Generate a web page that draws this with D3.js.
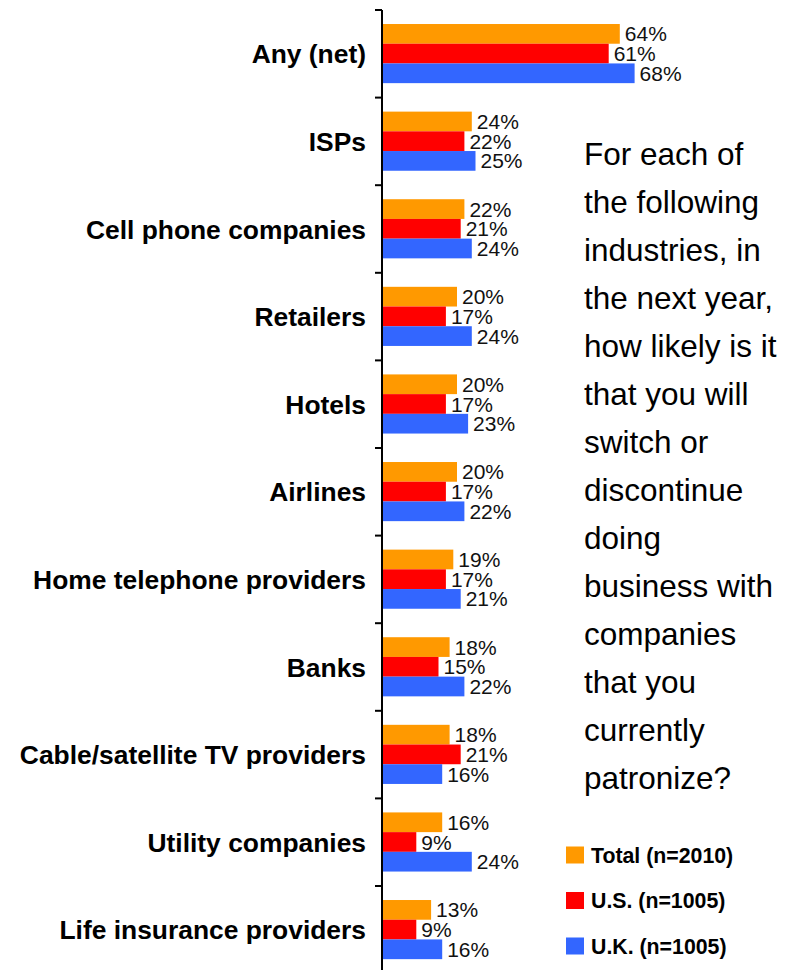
<!DOCTYPE html>
<html>
<head>
<meta charset="utf-8">
<script src="https://cdn.jsdelivr.net/npm/d3@7"></script>
<style>
  html, body { margin: 0; padding: 0; background: #fff; }
  svg { display: block; font-family: Arial, "Liberation Sans", sans-serif; }
</style>
</head>
<body>
<svg id="chart" width="798" height="970"></svg>
<script>
// Survey categories, top to bottom
const categories = [
  "Any (net)", "ISPs", "Cell phone companies", "Retailers", "Hotels",
  "Airlines", "Home telephone providers", "Banks",
  "Cable/satellite TV providers", "Utility companies", "Life insurance providers"
];
const seriesNames = ["Total (n=2010)", "U.S. (n=1005)", "U.K. (n=1005)"];
const totalValues = [64, 24, 22, 20, 20, 20, 19, 18, 18, 16, 13];
const usValues    = [61, 22, 21, 17, 17, 17, 17, 15, 21,  9,  9];
const ukValues    = [68, 25, 24, 24, 23, 22, 21, 22, 16, 24, 16];
const seriesColors = ["#FF9900", "#FF0000", "#3366FF"];
const questionLines = [
  "For each of", "the following", "industries, in", "the next year,",
  "how likely is it", "that you will", "switch or", "discontinue",
  "doing", "business with", "companies", "that you",
  "currently", "patronize?"
];

const seriesValues = [totalValues, usValues, ukValues];
const rows = categories.map((c, i) => ({
  category: c,
  values: seriesNames.map((s, k) => ({ series: s, value: seriesValues[k][i], k }))
}));

const svg = d3.select("#chart");

const axisX = 382;
const y0 = d3.scaleBand().domain(categories).range([10, 10 + 87.6 * categories.length]).padding(0);
const bw = y0.bandwidth();
const y1 = d3.scaleBand().domain(seriesNames).range([bw * 0.16, bw * 0.835]).padding(0);
const x = d3.scaleLinear().domain([0, 100]).range([axisX + 1, axisX + 1 + 370]);
const color = d3.scaleOrdinal().domain(seriesNames).range(seriesColors);

// Bars and value labels
const groups = svg.selectAll("g.cat").data(rows).join("g")
  .attr("class", "cat")
  .attr("transform", d => `translate(0,${y0(d.category)})`);

groups.selectAll("rect").data(d => d.values).join("rect")
  .attr("x", x(0))
  .attr("y", d => y1(d.series))
  .attr("width", d => x(d.value) - x(0))
  .attr("height", y1.bandwidth())
  .attr("fill", d => color(d.series));

groups.selectAll("text.val").data(d => d.values).join("text")
  .attr("class", "val")
  .attr("x", d => x(d.value) + 5)
  .attr("y", d => y1(d.series) + y1.bandwidth() / 2)
  .attr("dy", "0.36em")
  .attr("font-size", 21)
  .attr("fill", "#111")
  .text(d => d.value + "%");

// Category labels
svg.selectAll("text.cat-label").data(categories).join("text")
  .attr("class", "cat-label")
  .attr("x", 366)
  .attr("y", d => y0(d) + bw / 2)
  .attr("dy", "0.36em")
  .attr("text-anchor", "end")
  .attr("font-size", 26.4)
  .attr("font-weight", "bold")
  .attr("fill", "#000")
  .text(d => d);

// Vertical axis with ticks at band boundaries
const axis = svg.append("g");
axis.append("line")
  .attr("x1", axisX).attr("x2", axisX)
  .attr("y1", y0.range()[0]).attr("y2", 970)
  .attr("stroke", "#000").attr("stroke-width", 2);
axis.selectAll("line.tick").data(categories).join("line")
  .attr("class", "tick")
  .attr("x1", axisX - 7).attr("x2", axisX)
  .attr("y1", d => y0(d)).attr("y2", d => y0(d))
  .attr("stroke", "#000").attr("stroke-width", 2);

// Question text
svg.append("text")
  .attr("x", 584)
  .attr("y", 165)
  .attr("font-size", 31.5)
  .attr("fill", "#000")
  .selectAll("tspan").data(questionLines).join("tspan")
  .attr("x", 584)
  .attr("dy", (d, i) => i === 0 ? 0 : 48)
  .text(d => d);

// Legend
const legend = svg.selectAll("g.legend").data(seriesNames).join("g")
  .attr("class", "legend")
  .attr("transform", (d, i) => `translate(566,${855 + i * 45.5})`);
legend.append("rect")
  .attr("x", 0).attr("y", -8.5)
  .attr("width", 18).attr("height", 17)
  .attr("fill", d => color(d));
legend.append("text")
  .attr("x", 25).attr("y", 0).attr("dy", "0.36em")
  .attr("font-size", 21.3)
  .attr("font-weight", "bold")
  .attr("fill", "#000")
  .text(d => d);
</script>
</body>
</html>
